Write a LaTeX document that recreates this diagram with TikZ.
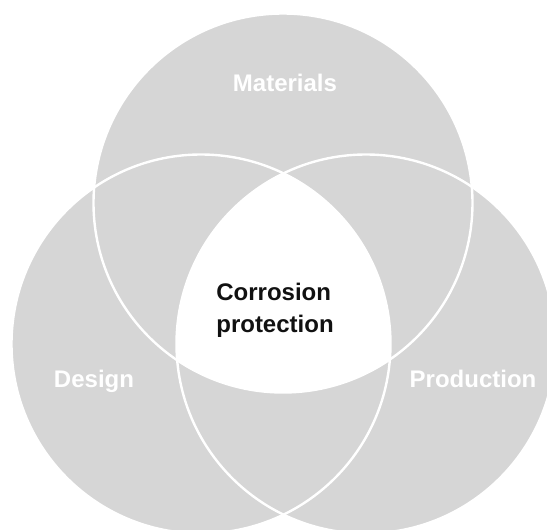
\documentclass[tikz,border=0pt]{standalone}
\usepackage{fontspec}
\setsansfont{Liberation Sans}
\usepackage{tikz}
\usetikzlibrary{positioning}
\definecolor{venngray}{HTML}{D6D6D6}
\definecolor{inkblack}{HTML}{111111}
\tikzset{
  setfill/.style={fill=venngray},
  setline/.style={draw=white, line width=2.4pt},
  setlabel/.style={text=white, font=\fontsize{24}{28}\selectfont\sffamily\bfseries,
    inner sep=0pt},
  corelabel/.style={text=inkblack, font=\fontsize{24}{32}\selectfont\sffamily\bfseries,
    align=left, inner sep=0pt},
}

\begin{document}
\begin{tikzpicture}[x=1pt, y=-1pt]
  \useasboundingbox (0,0) rectangle (547,530);
  \coordinate (mat) at (283,203);
  \coordinate (des) at (201,344);
  \coordinate (pro) at (366,344);
  \def\rad{189.5}
  % the three sets
  \fill[setfill] (mat) circle (\rad);
  \fill[setfill] (des) circle (\rad);
  \fill[setfill] (pro) circle (\rad);
  % common part
  \begin{scope}
    \clip (mat) circle (\rad);
    \clip (des) circle (\rad);
    \fill[white] (pro) circle (\rad);
  \end{scope}
  \draw[setline] (mat) circle (\rad);
  \draw[setline] (des) circle (\rad);
  \draw[setline] (pro) circle (\rad);
  \node[setlabel] (lmat) at (285,83) {Materials};
  \node[setlabel] (ldes) at (94,381) {Design};
  \node[setlabel] (lpro) at (473,378.5) {Production};
  \node[corelabel] (lcore) at (275,310) {Corrosion\\protection};
\end{tikzpicture}
\end{document}
